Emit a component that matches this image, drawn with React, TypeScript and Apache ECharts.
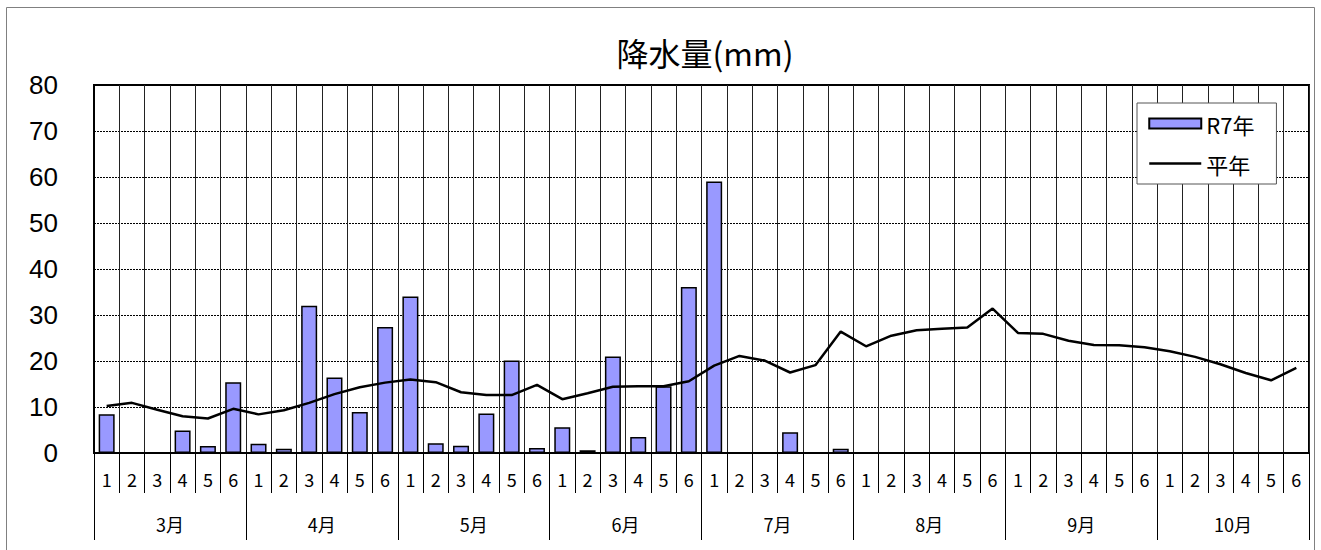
import React, { useEffect, useRef } from "react";
import * as echarts from "echarts";

const months = ["3月", "4月", "5月", "6月", "7月", "8月", "9月", "10月"];
const pentads = ["1", "2", "3", "4", "5", "6"];
const categories = months.flatMap(() => pentads);

const r7Values: (number | null)[] = [
  8.4, 0, 0, 4.9, 1.5, 15.4,
  2.0, 0.9, 32.0, 16.4, 8.9, 27.4,
  34.0, 2.1, 1.6, 8.6, 20.1, 1.1,
  5.6, 0.6, 21.0, 3.5, 14.5, 36.1,
  59.0, 0, 0, 4.5, 0, 0.9,
  null, null, null, null, null, null,
  null, null, null, null, null, null,
  null, null, null, null, null, null,
];

const normalValues = [
  10.2, 10.9, 9.4, 8.0, 7.5, 9.6,
  8.4, 9.3, 10.9, 12.8, 14.3, 15.3,
  16.0, 15.4, 13.2, 12.6, 12.6, 14.8,
  11.7, 13.0, 14.4, 14.5, 14.5, 15.6,
  19.0, 21.1, 20.1, 17.5, 19.1, 26.4,
  23.2, 25.5, 26.7, 27.0, 27.3, 31.4,
  26.1, 25.9, 24.4, 23.5, 23.4, 23.0,
  22.1, 20.9, 19.3, 17.4, 15.8, 18.5,
];

const titleText = "降水量(mm)";
const seriesNames = ["R7年", "平年"];

export default function App() {
  const ref = useRef<HTMLDivElement>(null);
  useEffect(() => {
    if (!ref.current) return;
    const chart = echarts.init(ref.current, null, { renderer: "svg" });
    const jp = "'Noto Sans CJK JP', sans-serif";
    const num = "'Liberation Sans', Arial, sans-serif";
    chart.setOption({
      animation: false,
      backgroundColor: "#fff",
      graphic: [
        {
          type: "rect",
          shape: { x: 6.5, y: 7.5, width: 1308, height: 560 },
          style: { fill: "none", stroke: "#808080", lineWidth: 1 },
          silent: true,
          z: 0,
        },
        {
          type: "text",
          x: 705,
          y: 52,
          style: {
            text: titleText,
            font: `32px ${jp}`,
            fill: "#000",
            align: "center",
            verticalAlign: "middle",
          },
        },
      ],
      legend: {
        left: 1137,
        top: 103,
        orient: "vertical",
        backgroundColor: "#fff",
        borderColor: "#555",
        borderWidth: 1,
        padding: [8, 22, 8, 11],
        itemGap: 15,
        itemWidth: 52,
        itemHeight: 10,
        textStyle: { fontFamily: jp, fontSize: 22, color: "#000", lineHeight: 25 },
        data: [
          { name: seriesNames[0], icon: "rect" },
          {
            name: seriesNames[1],
            itemStyle: { color: "rgba(0,0,0,0)", borderWidth: 0, opacity: 0 },
            lineStyle: { color: "#000", width: 2.5 },
          },
        ],
      },
      grid: {
        left: 94,
        right: 12,
        top: 85,
        bottom: 97,
        show: true,
        borderColor: "#000",
        borderWidth: 2,
        backgroundColor: "transparent",
      },
      xAxis: [
        {
          type: "category",
          data: categories,
          position: "bottom",
          boundaryGap: true,
          axisLine: { show: true, lineStyle: { color: "#000", width: 2 } },
          axisTick: {
            show: true,
            interval: 0,
            length: 40,
            lineStyle: { color: "#000", width: 1 },
          },
          axisLabel: {
            interval: 0,
            margin: 17,
            fontFamily: jp,
            fontSize: 18,
            color: "#000",
          },
          splitLine: {
            show: true,
            interval: 0,
            lineStyle: { color: "#222", width: 1 },
          },
        },
        {
          type: "category",
          data: months,
          position: "bottom",
          boundaryGap: true,
          axisLine: { show: false },
          axisTick: {
            show: true,
            interval: 0,
            length: 87,
            lineStyle: { color: "#000", width: 1 },
          },
          axisLabel: {
            interval: 0,
            margin: 62,
            fontFamily: jp,
            fontSize: 18,
            color: "#000",
          },
          splitLine: { show: false },
        },
      ],
      yAxis: {
        type: "value",
        min: 0,
        max: 80,
        interval: 10,
        axisLine: { show: true, lineStyle: { color: "#000", width: 2 } },
        axisTick: { show: false },
        axisLabel: {
          margin: 36,
          fontFamily: num,
          fontSize: 26,
          color: "#000",
        },
        splitLine: {
          show: true,
          lineStyle: { color: "#000", width: 1, type: [2, 1] },
        },
      },
      series: [
        {
          name: seriesNames[0],
          type: "bar",
          xAxisIndex: 0,
          data: r7Values,
          barWidth: 16,
          itemStyle: { color: "#9999FF", borderColor: "#000", borderWidth: 1.5 },
          z: 2,
        },
        {
          name: seriesNames[1],
          type: "line",
          xAxisIndex: 0,
          data: normalValues,
          symbol: "none",
          showSymbol: false,
          lineStyle: { color: "#000", width: 2.5 },
          itemStyle: { color: "#000" },
          z: 3,
        },
      ],
    });
    return () => chart.dispose();
  }, []);
  return (
    <div
      ref={ref}
      style={{ position: "fixed", left: 0, top: 0, width: 1321, height: 550 }}
    />
  );
}
